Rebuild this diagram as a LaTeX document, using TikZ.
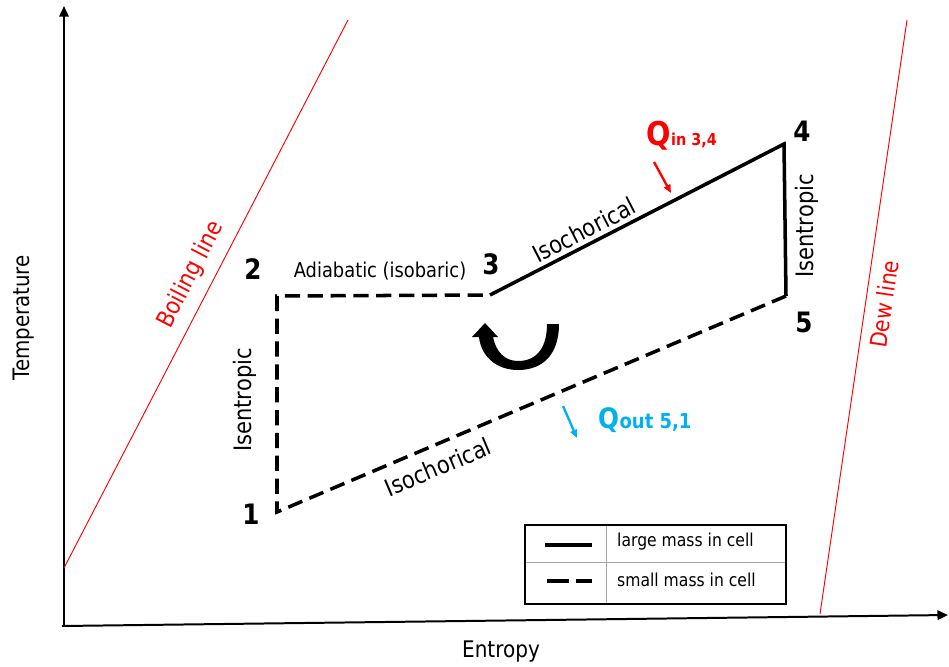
\documentclass[tikz,border=0pt]{standalone}
\usepackage{fontspec}
\setmainfont{DejaVu Sans}[FakeStretch=0.876]
\usetikzlibrary{arrows.meta}
\definecolor{qblue}{RGB}{0,176,240}
\tikzset{
  lbl/.style={font=\fontsize{17.4}{19}\selectfont, inner sep=0pt},
  rlbl/.style={font=\fontsize{20.5}{22}\selectfont, inner sep=0pt},
  num/.style={font=\fontsize{24}{26}\selectfont\bfseries, inner sep=0pt},
  redlbl/.style={rlbl, text=red},
  solidpath/.style={line width=3pt, line join=miter},
  dashpath/.style={line width=3pt, dash pattern=on 13pt off 6.5pt},
  axis/.style={line width=1.7pt, -{Triangle[length=9pt,width=8pt]}},
  thin red/.style={red, line width=0.8pt},
  qarrow/.style={line width=2pt, -{Triangle[length=7pt,width=6pt]}},
  legtext/.style={anchor=west, font=\fontsize{15.2}{17}\selectfont, inner sep=0pt},
}
\begin{document}
\begin{tikzpicture}[x=0.03cm,y=-0.03cm]
\useasboundingbox (0,0) rectangle (949,666);
% axes
\coordinate (o) at (64,626);
\coordinate (ytop) at (64,6);
\coordinate (xl) at (62,626);
\coordinate (xr) at (948,615);
\draw[axis] (o) -- (ytop);
\draw[axis] (xl) -- (xr);
\node[lbl, rotate=90, font=\fontsize{19.3}{21}\selectfont] (tlab) at (24,318) {Temperature};
\node[lbl, font=\fontsize{19.5}{21}\selectfont] (elab) at (501,652) {Entropy};
% boiling and dew lines
\coordinate (b1) at (64,568);
\coordinate (b2) at (348,20);
\coordinate (d1) at (820,614);
\coordinate (d2) at (907,20);
\draw[thin red] (b1) -- (b2);
\draw[thin red] (d1) -- (d2);
\node[redlbl, rotate=62.6] (blab) at (191,275) {Boiling line};
\node[redlbl, rotate=81.7, font=\fontsize{19.8}{21}\selectfont] (dlab) at (884,304) {Dew line};
% cycle points
\coordinate (p1) at (277,512);
\coordinate (p2) at (277,296);
\coordinate (p3) at (490,295);
\coordinate (p4) at (784,144);
\coordinate (p5) at (786,296);
\draw[dashpath] (p5) -- (p1) -- (p2) -- (p3);
\draw[solidpath] (p3) -- (p4) -- (p5);
\node[num] (n1) at (251,514) {1};
\node[num] (n2) at (253,269) {2};
\node[num] (n3) at (491,264) {3};
\node[num] (n4) at (802,131) {4};
\node[num] (n5) at (804,322) {5};
% path labels
\node[lbl] (adi) at (380,271) {Adiabatic (isobaric)};
\node[rlbl, rotate=27.3] (iso1) at (584,230) {Isochorical};
\node[rlbl, rotate=22.9] (iso2) at (438,467) {Isochorical};
\node[rlbl, rotate=90] (ise1) at (245,400) {Isentropic};
\node[rlbl, rotate=90] (ise2) at (807,226) {Isentropic};
% heat labels
\node[anchor=base west, inner sep=0pt, text=red, font=\fontsize{28}{30}\selectfont\bfseries] (qin) at (646,145) {Q};
\node[anchor=base west, inner sep=0pt, text=red, font=\fontsize{14}{16}\selectfont\bfseries] (qinsub) at (qin.base east) {in 3,4};
\coordinate (qia) at (654,162);
\coordinate (qib) at (671,193);
\draw[qarrow, red] (qia) -- (qib);
\node[anchor=base west, inner sep=0pt, text=qblue, font=\fontsize{24}{26}\selectfont\bfseries] (qout) at (598,428) {Q};
\node[anchor=base west, inner sep=0pt, text=qblue, font=\fontsize{17.5}{19}\selectfont\bfseries] (qoutsub) at (qout.base east) {out 5,1};
\coordinate (qoa) at (563,406);
\coordinate (qob) at (577,438);
\draw[qarrow, qblue] (qoa) -- (qob);
% cycle direction arrow
\fill[black] (559,324) .. controls (559,352) and (545,370) .. (518,370)
  .. controls (496,370) and (481,356) .. (479,337) -- (472,337) -- (485,323) -- (498,337) -- (493,337)
  .. controls (496,352) and (505,361) .. (518,361)
  .. controls (538,361) and (547,346) .. (547,324) -- cycle;
% legend
\coordinate (lg1) at (525,525);
\coordinate (lg2) at (786,604);
\draw[gray!70, line width=0.8pt] (606,525) -- (606,604);
\draw[gray!70, line width=0.8pt] (525,562) -- (786,562);
\draw[line width=1.6pt] (lg1) rectangle (lg2);
\coordinate (ls1) at (545,545);
\coordinate (ls2) at (592,545);
\coordinate (ld1) at (547,581);
\coordinate (ld2) at (592,581);
\draw[line width=3pt] (ls1) -- (ls2);
\draw[line width=3pt, dash pattern=on 19pt off 6pt] (ld1) -- (ld2);
\node[legtext] (lt1) at (617,542) {large mass in cell};
\node[legtext] (lt2) at (617,580) {small mass in cell};
\end{tikzpicture}
\end{document}
